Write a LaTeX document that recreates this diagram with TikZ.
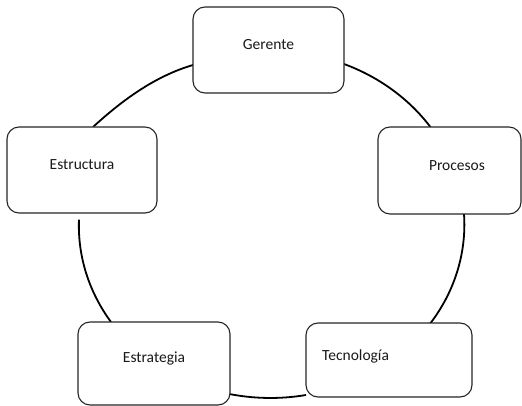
\documentclass[tikz,border=0pt]{standalone}
\usepackage{fontspec}
\setmainfont{Carlito}
\usetikzlibrary{backgrounds}
\begin{document}
\begin{tikzpicture}[x=1pt,y=1pt,
  stage/.style={draw=black!85, line width=1.1pt, fill=white, rounded corners=12pt,
    inner sep=0pt, outer sep=0pt},
  caption/.style={anchor=base, text=black!90, font=\fontsize{15.5}{18}\selectfont,
    inner sep=0pt},
  ring/.style={draw=black, line width=1.8pt}]
\useasboundingbox (0,0) rectangle (522,-406);

% the five stages of the cycle
\node[stage, minimum width=151pt, minimum height=86pt] (gerente)    at (268.5,-50)  {};
\node[stage, minimum width=150pt, minimum height=86pt] (estructura) at (82,-170)    {};
\node[stage, minimum width=143pt, minimum height=87pt] (procesos)   at (449.5,-170.5) {};
\node[stage, minimum width=152pt, minimum height=83pt] (estrategia) at (154,-363.5) {};
\node[stage, minimum width=166pt, minimum height=74pt] (tecnologia) at (389,-360)   {};

% labels
\node[caption] (tg) at (gerente.center)                 {Gerente};
\node[caption] (ts) at (estructura.center)              {Estructura};
\node[caption] (tp) at ([xshift=7.5pt]procesos.center)  {Procesos};
\node[caption] (te) at ([yshift=1.5pt]estrategia.center) {Estrategia};
\node[caption, anchor=base west] (tt) at ([xshift=16pt]tecnologia.west) {Tecnología};

% ring segments joining the stages
\begin{scope}[on background layer]
  \draw[ring] ([yshift=-14pt]gerente.east)
    arc[start angle=67.7, end angle=33, x radius=193.5pt, y radius=174.3pt];
  \draw[ring] ([xshift=14.5pt]procesos.south)
    arc[start angle=3.5, end angle=-35, x radius=193.5pt, y radius=174.3pt];
  \draw[ring] ([yshift=-35pt]tecnologia.west)
    arc[start angle=-79.4, end angle=-103, x radius=193.5pt, y radius=174.3pt];
  \draw[ring] ([xshift=-43pt]estrategia.north)
    arc[start angle=-146.5, end angle=-182, x radius=193.5pt, y radius=174.3pt];
  \draw[ring] ([xshift=11pt]estructura.north)
    .. controls +(29.4,26.9) and +(-38.1,-11.2) .. ([yshift=-15pt]gerente.west);
\end{scope}
\end{tikzpicture}
\end{document}
